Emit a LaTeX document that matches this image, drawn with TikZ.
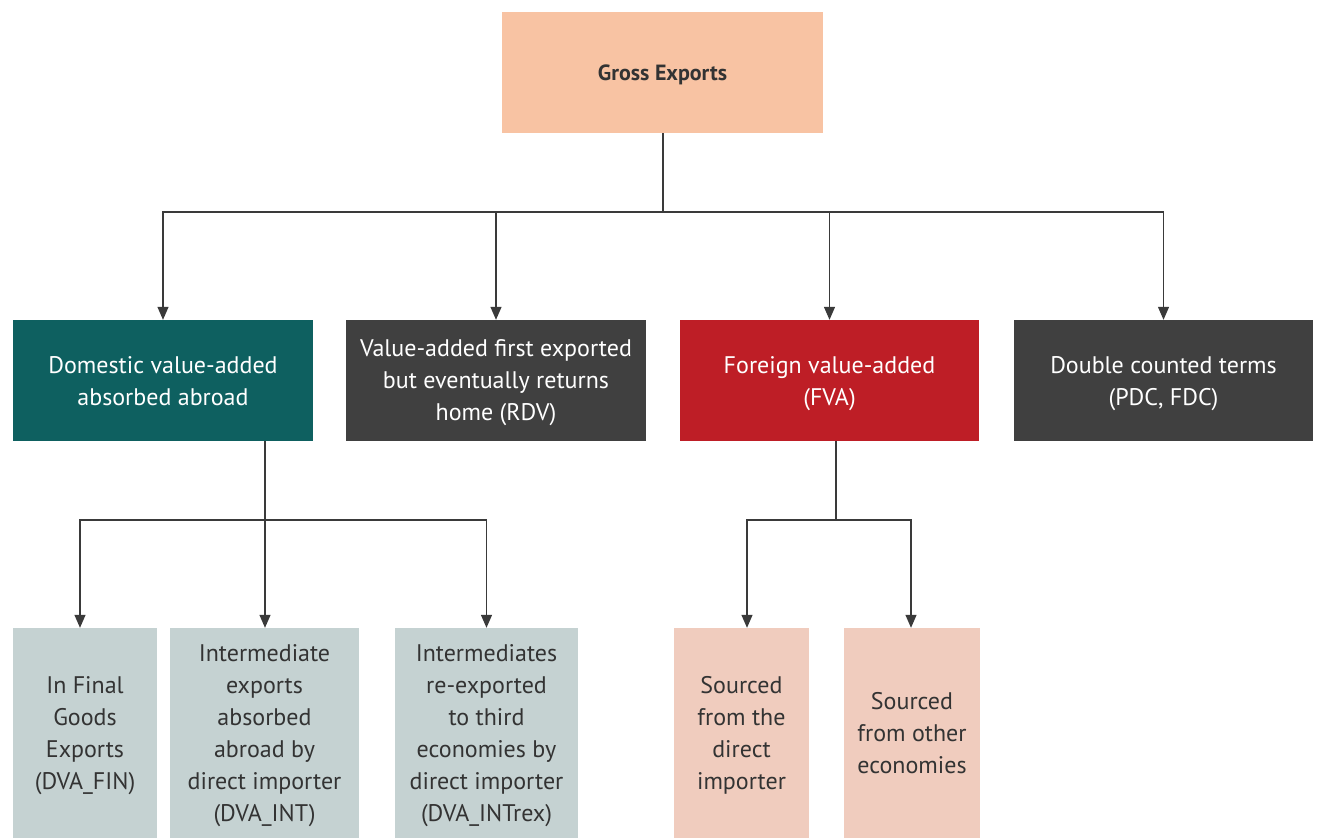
\documentclass[tikz,border=0pt]{standalone}
\usepackage{fontspec}
\setmainfont{PT Sans}
\usetikzlibrary{arrows.meta}
\definecolor{peach}{HTML}{F8C3A3}
\definecolor{teal}{HTML}{0E6060}
\definecolor{dgray}{HTML}{404040}
\definecolor{fred}{HTML}{BE1E26}
\definecolor{lgray}{HTML}{C5D2D2}
\definecolor{lpink}{HTML}{F0CCBE}
\definecolor{txt}{HTML}{333333}
\definecolor{linec}{HTML}{3A3A3A}
\tikzset{
  box/.style={rectangle, inner sep=0pt, align=center, text depth=0pt, font=\fontsize{24}{32}\selectfont},
  midbox/.style={box, minimum width=300pt, minimum height=121pt, text=white},
  lowbox/.style={box, minimum height=210pt, text=txt},
  conn/.style={draw=linec, line width=1.3pt},
  arr/.style={conn, -{Triangle[width=11pt,length=13pt]}},
}
\begin{document}
\begin{tikzpicture}[x=1pt,y=-1pt]
\useasboundingbox (0,0) rectangle (1319,838);
\node[box, fill=peach, text=txt, minimum width=321pt, minimum height=121pt, font=\fontsize{22}{28}\selectfont\bfseries] (top) at (662.5,72.5) {Gross Exports};
\node[midbox, fill=teal] (dva) at (163,380.5) {Domestic value-added\\absorbed abroad};
\node[midbox, fill=dgray] (rdv) at (496,380.5) {Value-added first exported\\but eventually returns\\home (RDV)};
\node[midbox, fill=fred, minimum width=299pt] (fva) at (829.5,380.5) {Foreign value-added\\(FVA)};
\node[midbox, fill=dgray, minimum width=299pt] (pdc) at (1163.5,380.5) {Double counted terms\\(PDC, FDC)};
\node[lowbox, fill=lgray, minimum width=144pt] (fin) at (85,733) {In Final\\Goods\\Exports\\(DVA\_FIN)};
\node[lowbox, fill=lgray, minimum width=189pt] (int) at (264.5,733) {Intermediate\\exports\\absorbed\\abroad by\\direct importer\\(DVA\_INT)};
\node[lowbox, fill=lgray, minimum width=183pt] (intrex) at (486.5,733) {Intermediates\\re-exported\\to third\\economies by\\direct importer\\(DVA\_INTrex)};
\node[lowbox, fill=lpink, minimum width=135pt] (sdi) at (741.5,733) {Sourced\\from the\\direct\\importer};
\node[lowbox, fill=lpink, minimum width=136pt] (soe) at (912,733) {Sourced\\from other\\economies};
\coordinate (j1) at (663,212);
\coordinate (j2) at (265,520);
\coordinate (j3) at (836,520);
\draw[conn] (top.south -| j1) -- (j1);
\draw[arr] (j1) -| (dva.north);
\draw[arr] (j1) -| (rdv.north);
\draw[arr] (j1) -| (fva.north);
\draw[arr] (j1) -| (pdc.north);
\draw[conn] (dva.south -| j2) -- (j2);
\draw[arr] (j2) -| ([xshift=-5pt]fin.north);
\draw[arr] (j2) -| ([xshift=0.5pt]int.north);
\draw[arr] (j2) -| (intrex.north);
\draw[conn] (fva.south -| j3) -- (j3);
\draw[arr] (j3) -| ([xshift=5.5pt]sdi.north);
\draw[arr] (j3) -| ([xshift=-1pt]soe.north);
\end{tikzpicture}
\end{document}
